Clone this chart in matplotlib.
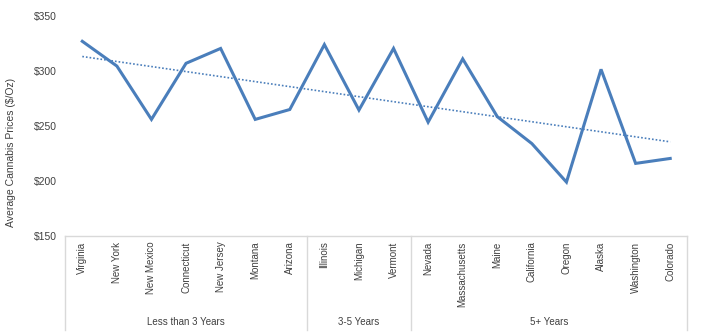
import matplotlib
matplotlib.use("Agg")
import matplotlib.pyplot as plt
import matplotlib.transforms as mtransforms
import numpy as np

states = ["Virginia", "New York", "New Mexico", "Connecticut", "New Jersey", "Montana", "Arizona",
          "Illinois", "Michigan", "Vermont",
          "Nevada", "Massachusetts", "Maine", "California", "Oregon", "Alaska", "Washington", "Colorado"]
prices = [327, 304.5, 256, 307, 320.5, 256, 265,
          324, 264.5, 320.5,
          253.5, 311, 258.5, 234, 199, 301.5, 216, 220.5]
groups = ["Less than 3 Years", "3-5 Years", "5+ Years"]
group_sizes = [7, 3, 8]
yticks = [150, 200, 250, 300, 350]

plt.rcParams['font.family'] = ['Liberation Sans', 'DejaVu Sans']

fig = plt.figure(figsize=(7.02, 3.36), dpi=100)
W, H = 702, 336
ax = fig.add_axes([65 / W, 1 - 236 / H, (687.5 - 65) / W, (236 - 16) / H])

x = np.arange(len(states))
color = "#4a7ebb"
ax.plot(x, prices, color=color, lw=2.2, solid_joinstyle='miter', zorder=3)
coef = np.polyfit(x, prices, 1)
ax.plot(x, np.polyval(coef, x), color=color, lw=1.2, ls=(0, (1, 1.2)), zorder=2)

ax.set_xlim(-0.5, len(states) - 0.5)
ax.set_ylim(150, 350)
ax.set_yticks(yticks)
ax.set_yticklabels([f"${v}" for v in yticks], fontsize=7.5, color="#404040")
ax.tick_params(axis='y', length=0, pad=6)
ax.set_xticks(x)
ax.set_xticklabels(states, rotation=90, fontsize=7, color="#404040", va='top', ha='center')
ax.tick_params(axis='x', length=0, pad=4)
for s in ["top", "right", "left"]:
    ax.spines[s].set_visible(False)
ax.spines["bottom"].set_color("#d9d9d9")
ax.spines["bottom"].set_linewidth(1)

ax.set_ylabel("Average Cannabis Prices ($/Oz)", fontsize=7.5, color="#404040")
ax.yaxis.set_label_coords(-(65 - 16) / (687.5 - 65), (236 - 152) / 220)

# group separators and labels
trans = mtransforms.blended_transform_factory(ax.transData, fig.transFigure)
y_top = 1 - 236 / H
y_bot = 1 - 330 / H
bounds = [-0.5]
for n in group_sizes:
    bounds.append(bounds[-1] + n)
for b in bounds:
    ax.plot([b, b], [y_top, y_bot], transform=trans, color="#d9d9d9", lw=1, clip_on=False)
for i, g in enumerate(groups):
    cx = (bounds[i] + bounds[i + 1]) / 2
    ax.text(cx, 1 - 322 / H, g, transform=trans, ha='center', va='center', fontsize=7, color="#404040")

fig.savefig("out.png", dpi=100)
